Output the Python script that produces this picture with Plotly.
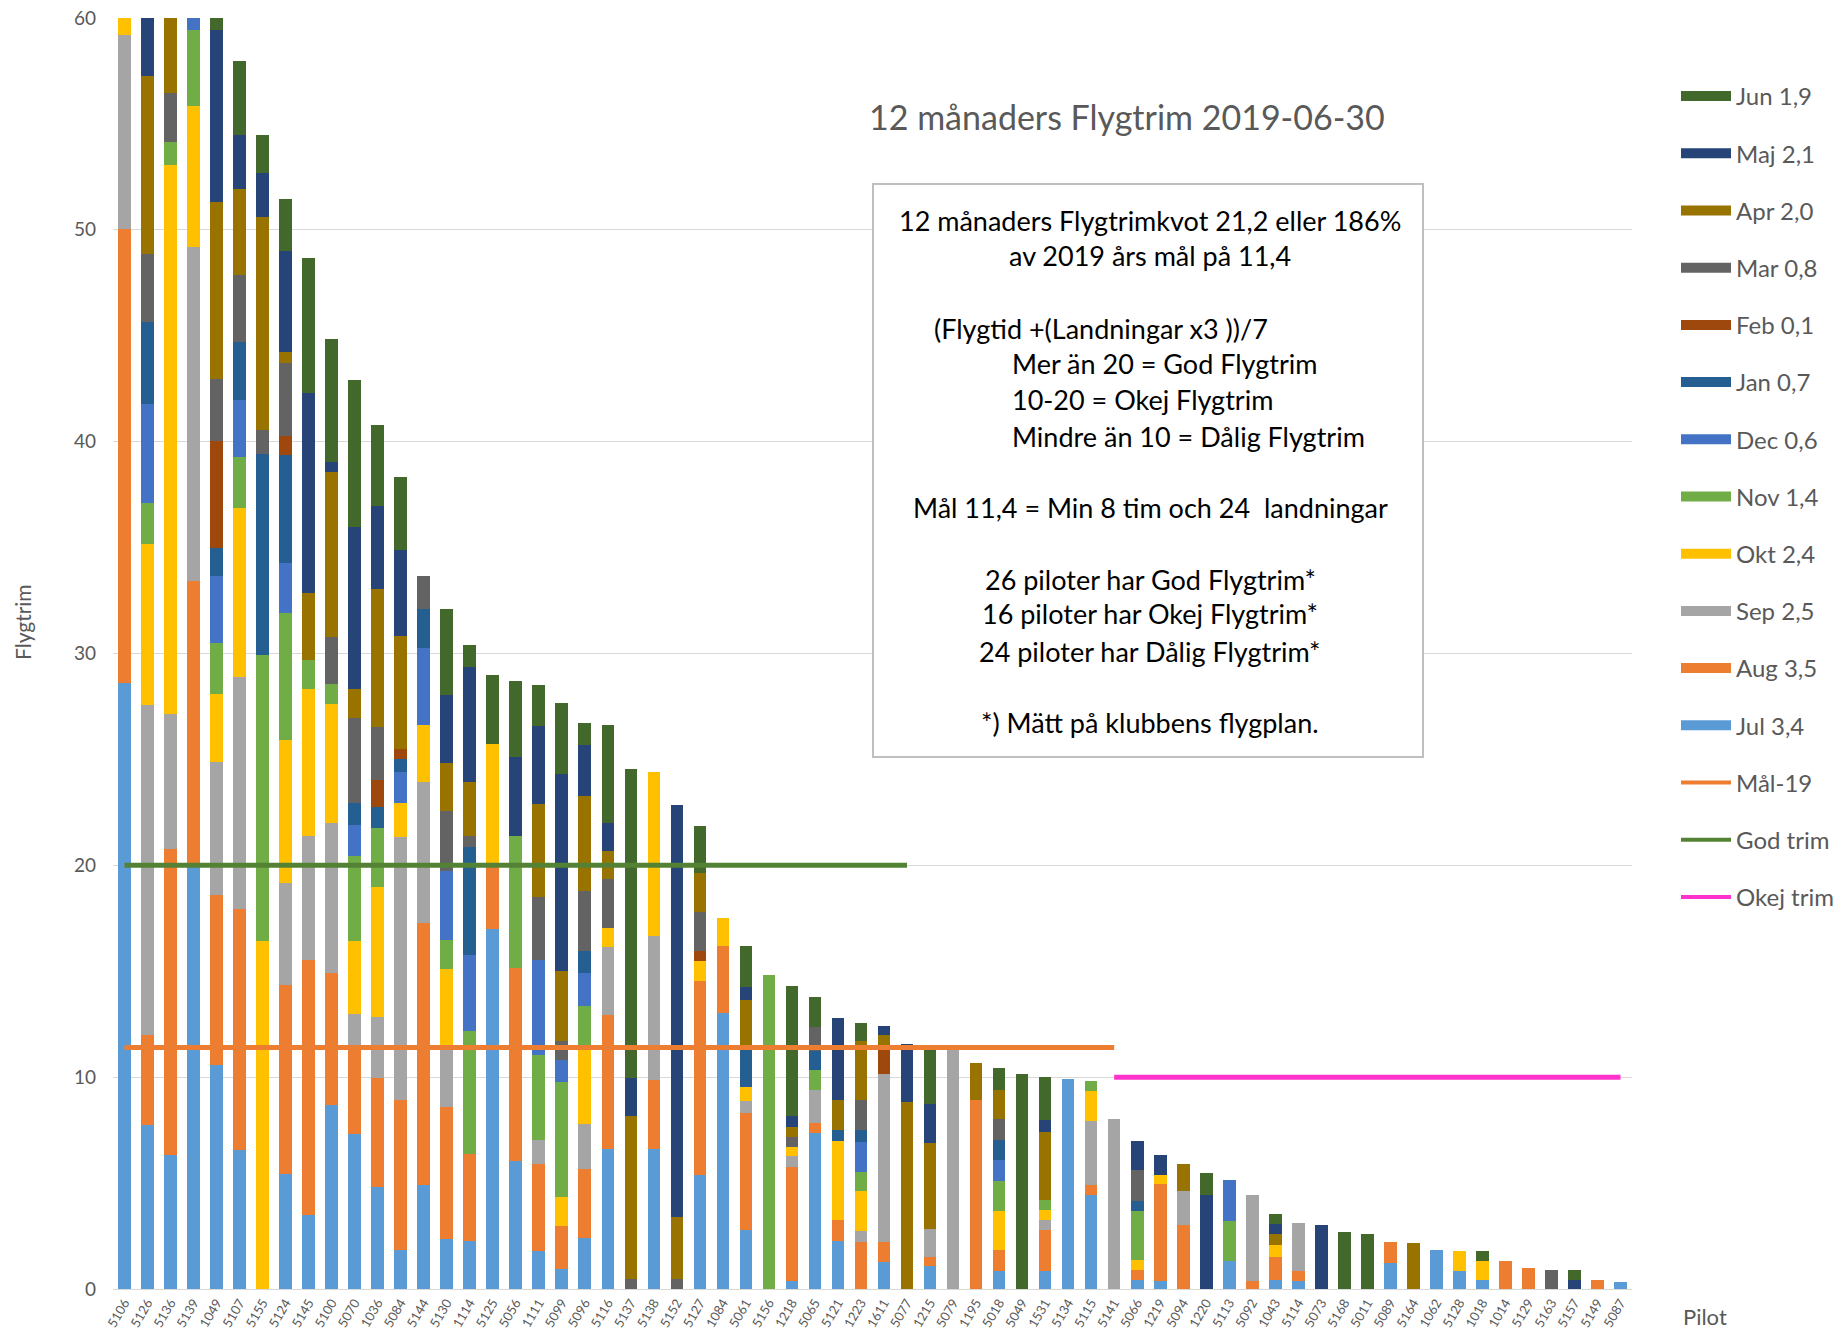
import plotly.graph_objects as go

# ---------------- data ----------------
pilots = ["5106", "5126", "5136", "5139", "1049", "5107", "5155", "5124", "5145", "5100",
          "5070", "1036", "5084", "5144", "5130", "1114", "5125", "5056", "1111", "5099",
          "5096", "5116", "5137", "5138", "5152", "5127", "1084", "5061", "5156", "1218",
          "5065", "5121", "1223", "1611", "5077", "1215", "5079", "1195", "5018", "5049",
          "1531", "5134", "5115", "5141", "5066", "1219", "5094", "1220", "5113", "5092",
          "1043", "5114", "5073", "5168", "5011", "5089", "5164", "1062", "5128", "1018",
          "1014", "5129", "5163", "5157", "5149", "5087"]

jul = [28.6, 7.73, 6.33, 20.0, 10.56, 6.58, 0, 5.43, 3.5, 8.69,
       7.3, 4.82, 1.86, 4.93, 2.35, 2.28, 16.98, 6.03, 1.81, 0.95,
       2.41, 6.63, 0, 6.63, 0, 5.37, 13.03, 2.77, 0, 0.36,
       7.37, 2.28, 0, 1.26, 0, 1.07, 0, 0, 0.84, 0,
       0.84, 9.9, 4.46, 0, 0.41, 0.36, 0, 0, 1.31, 0,
       0.41, 0.36, 0, 0, 0, 1.25, 0, 1.86, 0.84, 0.41,
       0, 0, 0, 0, 0, 0.33]
aug = [21.45, 4.28, 14.46, 13.44, 8.06, 11.36, 0, 8.94, 12.03, 6.23,
       4.16, 5.14, 7.08, 12.35, 6.23, 4.11, 3.13, 9.13, 4.11, 2.01,
       3.27, 6.29, 0, 3.22, 0, 9.19, 3.18, 5.56, 0, 5.42,
       0.47, 0.98, 2.24, 0.98, 0, 0.43, 0, 8.92, 1.02, 0,
       1.93, 0, 0.47, 0, 0.49, 4.58, 3.01, 0, 0, 0.36,
       1.09, 0.48, 0, 0, 0, 0.97, 0, 0, 0, 0,
       1.33, 1.01, 0, 0, 0.43, 0]
sep = [9.14, 15.54, 6.36, 15.75, 6.28, 10.95, 0, 4.78, 5.86, 7.08,
       1.53, 2.9, 12.4, 6.66, 2.77, 0, 0, 0, 1.13, 0,
       2.13, 3.23, 0, 6.83, 0, 0, 0, 0.55, 0, 0.48,
       1.57, 0, 0.48, 7.91, 0, 1.34, 11.3, 0, 0, 0,
       0.47, 0, 2.99, 8.03, 0, 0, 1.62, 0, 0, 4.1,
       0, 2.28, 0, 0, 0, 0, 0, 0, 0, 0,
       0, 0, 0, 0, 0, 0]
okt = [2.5, 7.62, 25.92, 6.66, 3.2, 7.98, 16.45, 6.77, 6.95, 5.62,
       3.46, 6.12, 1.62, 2.7, 3.76, 0, 5.63, 0, 0, 1.39,
       3.52, 0.89, 0, 7.73, 0, 0.91, 1.32, 0.66, 0, 0.45,
       0, 3.73, 1.92, 0, 0, 0, 0, 0, 1.81, 0,
       0.49, 0, 1.45, 0, 0.49, 0.43, 0, 0, 0, 0,
       0.6, 0, 0, 0, 0, 0, 0, 0, 0.96, 0.9,
       0, 0, 0, 0, 0, 0]
nov = [0, 1.94, 1.08, 3.57, 2.41, 2.42, 13.5, 5.99, 1.34, 0.96,
       3.98, 2.78, 0, 0, 1.38, 5.81, 0, 6.23, 4.01, 5.43,
       2.01, 0, 0, 0, 0, 0, 0, 0, 14.81, 0,
       0.91, 0, 0.9, 0, 0, 0, 0, 0, 1.45, 0,
       0.49, 0, 0.47, 0, 2.28, 0, 0, 0, 1.89, 0,
       0, 0, 0, 0, 0, 0, 0, 0, 0, 0,
       0, 0, 0, 0, 0, 0]
dec = [0, 4.66, 0, 2.0, 3.15, 2.66, 0, 2.35, 0, 0,
       1.49, 0, 1.45, 3.64, 3.26, 3.55, 0, 0, 4.46, 1.02,
       1.58, 0, 0, 0, 0, 0, 0, 0, 0, 0,
       0, 0, 1.39, 0, 0, 0, 0, 0, 0.96, 0,
       0, 0, 0, 0, 0, 0, 0, 0, 1.93, 0,
       0, 0, 0, 0, 0, 0, 0, 0, 0, 0,
       0, 0, 0, 0, 0, 0]
jan = [0, 3.87, 0, 0, 1.34, 2.77, 9.45, 5.1, 0, 0,
       1.04, 1.01, 0.61, 1.81, 0, 5.1, 0, 0, 0, 0,
       1.02, 0, 0, 0, 0, 0, 0, 1.89, 0, 0,
       0.9, 0.5, 0.56, 0, 0, 0, 0, 0, 0.97, 0,
       0, 0, 0, 0, 0.49, 0, 0, 0, 0, 0,
       0, 0, 0, 0, 0, 0, 0, 0, 0, 0,
       0, 0, 0, 0, 0, 0]
feb = [0, 0, 0, 0, 5.01, 0, 0, 0.89, 0, 0,
       0, 1.28, 0.49, 0, 0, 0, 0, 0, 0, 0,
       0, 0, 0, 0, 0, 0.47, 0, 0, 0, 0,
       0, 0, 0, 1.31, 0, 0, 0, 0, 0, 0,
       0, 0, 0, 0, 0, 0, 0, 0, 0, 0,
       0, 0, 0, 0, 0, 0, 0, 0, 0, 0,
       0, 0, 0, 0, 0, 0]
mar = [0, 3.2, 2.29, 0, 2.95, 3.15, 1.17, 3.46, 0, 2.18,
       4.0, 2.48, 0, 1.57, 2.83, 0.54, 0, 0, 2.97, 0.93,
       2.85, 2.3, 0.48, 0, 0.48, 1.87, 0, 0, 0, 0.48,
       1.15, 0, 1.45, 0, 0, 0, 0, 0, 0.98, 0,
       0, 0, 0, 0, 1.44, 0, 0, 0, 0, 0,
       0, 0, 0, 0, 0, 0, 0, 0, 0, 0,
       0, 0, 0.9, 0, 0, 0]
apr = [0, 8.4, 5.0, 0, 8.35, 4.04, 10.02, 0.54, 3.19, 7.79,
       1.38, 6.52, 5.3, 0, 2.25, 2.55, 0, 0, 4.42, 3.3,
       4.47, 1.32, 7.67, 0, 2.91, 1.83, 0, 2.23, 0, 0.48,
       0, 1.45, 2.79, 0.55, 8.81, 4.06, 0, 1.77, 1.38, 0,
       3.19, 0, 0, 0, 0, 0, 1.27, 0, 0, 0,
       0.48, 0, 0, 0, 0, 0, 2.18, 0, 0, 0,
       0, 0, 0, 0, 0, 0]
maj = [0, 4.0, 0, 0, 8.11, 2.55, 2.11, 4.77, 9.43, 0.51,
       7.63, 3.93, 4.06, 0, 3.21, 5.42, 0, 3.74, 3.68, 9.27,
       2.42, 1.34, 1.81, 0, 19.46, 0, 0, 0.6, 0, 0.48,
       0, 3.86, 0, 0.42, 2.77, 1.85, 0, 0, 0, 0,
       0.55, 0, 0, 0, 1.4, 0.96, 0, 4.46, 0, 0,
       0.49, 0, 3.01, 0, 0, 0, 0, 0, 0, 0,
       0, 0, 0, 0.41, 0, 0]
jun = [0, 0, 0, 0, 2.0, 3.51, 1.76, 2.42, 6.35, 5.79,
       6.96, 3.81, 3.45, 0, 4.05, 1.03, 3.26, 3.56, 1.94, 3.38,
       1.02, 4.64, 14.57, 0, 0, 2.22, 0, 1.95, 0, 6.17,
       1.4, 0, 0.83, 0, 0, 2.77, 0, 0, 1.03, 10.15,
       2.05, 0, 0, 0, 0, 0, 0, 1.02, 0, 0,
       0.49, 0, 0, 2.7, 2.6, 0, 0, 0, 0, 0.49,
       0, 0, 0, 0.49, 0, 0]

month_names = ["Jul 3,4", "Aug 3,5", "Sep 2,5", "Okt 2,4", "Nov 1,4", "Dec 0,6",
               "Jan 0,7", "Feb 0,1", "Mar 0,8", "Apr 2,0", "Maj 2,1", "Jun 1,9"]
month_values = [jul, aug, sep, okt, nov, dec, jan, feb, mar, apr, maj, jun]

# reference lines (value, first pilot index, last pilot index)
mal_19 = 11.4
god_trim = 20
okej_trim = 10
mal_span = (0, 43)
god_span = (0, 34)
okej_span = (43, 65)

# ---------------- styles ----------------
month_colors = ["#5B9BD5", "#ED7D31", "#A5A5A5", "#FFC000", "#70AD47", "#4472C4",
                "#255E91", "#9E480E", "#636363", "#997300", "#264478", "#43682B"]
line_colors = {"Mål-19": "#ED7D31", "God trim": "#548235", "Okej trim": "#FF33CC"}
FONT = "Lato, 'Open Sans', sans-serif"
GREY = "#595959"

W, H = 1841, 1333
L, R, T, B = 113, 209, 18, 44


def px(x):
    return (x - L) / (W - L - R)


def py(y):
    return (H - B - y) / (H - T - B)


fig = go.Figure()

for name, vals, col in zip(month_names, month_values, month_colors):
    fig.add_trace(go.Bar(x=pilots, y=vals, name=name, marker_color=col,
                         marker_line_width=0, showlegend=False))


def span_series(value, span):
    return [value if span[0] <= i <= span[1] else None for i in range(len(pilots))]


for name, value, span in [("Mål-19", mal_19, mal_span),
                          ("God trim", god_trim, god_span),
                          ("Okej trim", okej_trim, okej_span)]:
    fig.add_trace(go.Scatter(x=pilots, y=span_series(value, span), mode="lines",
                             name=name, line=dict(color=line_colors[name], width=5),
                             showlegend=False, connectgaps=False))

# legend proxies (wide colour blocks like the original)
for name, col in reversed(list(zip(month_names, month_colors))):
    fig.add_trace(go.Scatter(x=[None], y=[None], mode="lines", name=name,
                             line=dict(color=col, width=14), legendgroup=name))
for name in ["Mål-19", "God trim", "Okej trim"]:
    fig.add_trace(go.Scatter(x=[None], y=[None], mode="lines", name=name,
                             line=dict(color=line_colors[name], width=4), legendgroup=name))

fig.update_layout(
    width=W, height=H,
    margin=dict(l=L, r=R, t=T, b=B, autoexpand=False),
    barmode="stack", bargap=0.45,
    plot_bgcolor="white", paper_bgcolor="white",
    font=dict(family=FONT, color=GREY),
    legend=dict(x=px(1676), y=py(74), xanchor="left", yanchor="top",
                font=dict(size=24, color=GREY), tracegroupgap=23,
                itemwidth=50, traceorder="grouped", bgcolor="rgba(0,0,0,0)"),
    xaxis=dict(type="category", tickangle=-60, tickfont=dict(size=13, color=GREY),
               showline=True, linecolor="#D9D9D9", linewidth=1, ticks="",
               showgrid=False, automargin=False),
    yaxis=dict(range=[0, 60], dtick=10, gridcolor="#D9D9D9", gridwidth=1,
               tickfont=dict(size=19, color=GREY), zeroline=False, showline=False,
               ticks="", ticklabelstandoff=16, automargin=False),
)

# text box
fig.add_shape(type="rect", xref="paper", yref="paper",
              x0=px(873), x1=px(1423), y0=py(757), y1=py(184),
              line=dict(color="#BFBFBF", width=2), fillcolor="white", layer="above")

box_center = [("12 månaders Flygtrimkvot 21,2 eller 186%", 220),
              ("av 2019 års mål på 11,4", 255),
              ("Mål 11,4 = Min 8 tim och 24  landningar", 508),
              ("26 piloter har God Flygtrim*", 579),
              ("16 piloter har Okej Flygtrim*", 614),
              ("24 piloter har Dålig Flygtrim*", 651),
              ("*) Mätt på klubbens flygplan.", 722)]
box_left = [("(Flygtid +(Landningar x3 ))/7", 932, 328),
            ("Mer än 20 = God Flygtrim", 1010, 363),
            ("10-20 = Okej Flygtrim", 1010, 399),
            ("Mindre än 10 = Dålig Flygtrim", 1010, 436)]
for txt, y in box_center:
    fig.add_annotation(text=txt, x=px(1150), y=py(y), xref="paper", yref="paper",
                       showarrow=False, xanchor="center", yanchor="middle",
                       font=dict(size=27, color="#000000", family=FONT))
for txt, x, y in box_left:
    fig.add_annotation(text=txt, x=px(x), y=py(y), xref="paper", yref="paper",
                       showarrow=False, xanchor="left", yanchor="middle",
                       font=dict(size=27, color="#000000", family=FONT))

# title
fig.add_annotation(text="12 månaders Flygtrim 2019-06-30", x=px(1127), y=py(117),
                   xref="paper", yref="paper", showarrow=False,
                   xanchor="center", yanchor="middle",
                   font=dict(size=34, color=GREY, family=FONT))
# axis titles
fig.add_annotation(text="Flygtrim", x=px(22), y=py(622), xref="paper", yref="paper",
                   showarrow=False, textangle=-90, xanchor="center", yanchor="middle",
                   font=dict(size=21, color=GREY, family=FONT))
fig.add_annotation(text="Pilot", x=px(1705), y=py(1316), xref="paper", yref="paper",
                   showarrow=False, xanchor="center", yanchor="middle",
                   font=dict(size=22, color=GREY, family=FONT))

fig.write_html("out.html", config={"displayModeBar": False},
               post_script="document.body.style.margin='0';")
